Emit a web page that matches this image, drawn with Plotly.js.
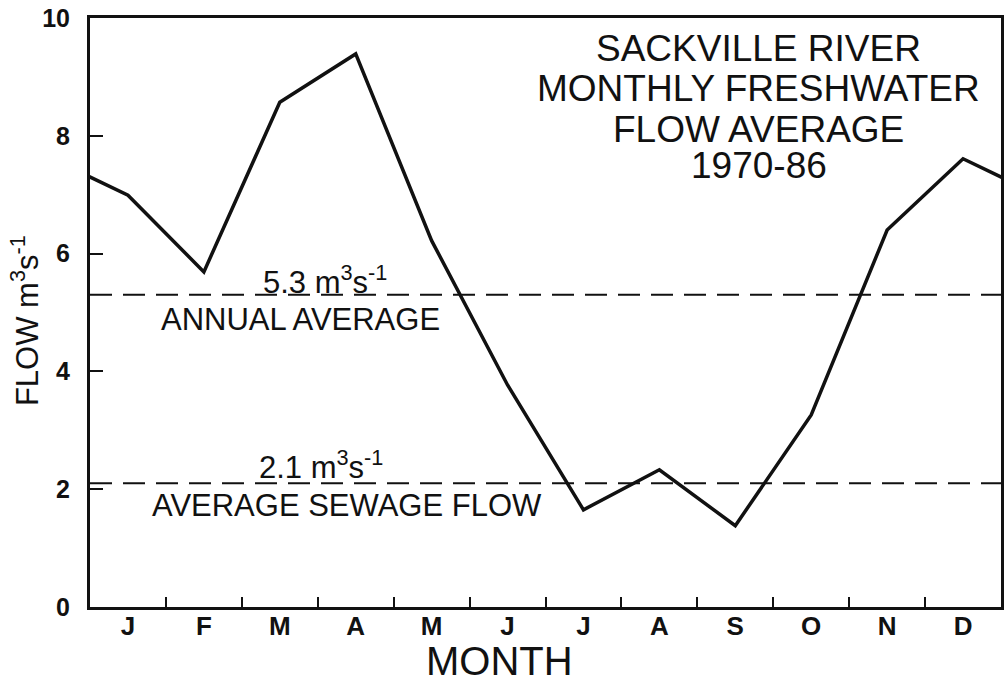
<!DOCTYPE html>
<html>
<head>
<meta charset="utf-8">
<script src="https://cdn.plot.ly/plotly-3.0.1.min.js"></script>
<style>
  html, body { margin: 0; padding: 0; background: #fff; }
  #chart { width: 1006px; height: 688px; }
</style>
</head>
<body>
<div id="chart"></div>
<script>
// Sackville River mean monthly freshwater flow, 1970-86 (m3/s)
const months = ['J', 'F', 'M', 'A', 'M', 'J', 'J', 'A', 'S', 'O', 'N', 'D'];
const monthlyFlow = [6.99, 5.69, 8.57, 9.39, 6.22, 3.77, 1.65, 2.33, 1.38, 3.26, 6.40, 7.61];
const annualAverage = 5.3;
const sewageAverage = 2.1;
const yTicks = [0, 2, 4, 6, 8, 10];
const titleLines = ['SACKVILLE RIVER', 'MONTHLY FRESHWATER', 'FLOW AVERAGE', '1970-86'];

// Month i sits at x = i + 1; the cycle wraps so the line runs to both edges
const monthPos = months.map((_, i) => i + 1);
const xLine = [0, ...monthPos, months.length + 1];
const yLine = [monthlyFlow[monthlyFlow.length - 1], ...monthlyFlow, monthlyFlow[0]];
const boundaries = monthPos.slice(0, -1).map(v => v + 0.5);

const FONT = 'Liberation Sans, Arial, Helvetica, sans-serif';
const INK = '#111';

const flowTrace = {
  x: xLine,
  y: yLine,
  type: 'scatter',
  mode: 'lines',
  line: { color: INK, width: 3.5 },
  hoverinfo: 'skip',
  showlegend: false
};

const refLine = v => ({
  type: 'line', xref: 'paper', x0: 0, x1: 1, yref: 'y', y0: v, y1: v,
  line: { color: INK, width: 2, dash: '22px,11px' }
});

const note = (text, x, y, yshift, size) => ({
  text, x, y, xref: 'x', yref: 'y', yshift, showarrow: false,
  xanchor: 'center', yanchor: 'middle',
  font: { family: FONT, size, color: INK }
});

const titleY = [0.949, 0.881, 0.8115, 0.750];
const titleAnnotations = titleLines.map((t, i) => ({
  text: t, xref: 'paper', yref: 'paper', x: 0.734, y: titleY[i],
  showarrow: false, xanchor: 'center', yanchor: 'middle',
  height: 34, valign: 'middle',
  font: { family: FONT, size: 37, color: INK }
}));

const layout = {
  width: 1006,
  height: 688,
  margin: { l: 90, r: 5, t: 18, b: 81 },
  paper_bgcolor: '#fff',
  plot_bgcolor: '#fff',
  showlegend: false,
  xaxis: {
    range: [0.5, months.length + 0.5],
    tickmode: 'array',
    tickvals: monthPos,
    ticktext: months,
    ticks: '',
    ticklabelstandoff: -6,
    minor: {
      tickmode: 'array',
      tickvals: boundaries,
      ticks: 'inside',
      ticklen: 10,
      tickwidth: 2,
      tickcolor: INK,
      showgrid: false
    },
    tickfont: { family: FONT, size: 26, color: INK, weight: 'bold' },
    showline: true, mirror: true, linecolor: INK, linewidth: 3,
    showgrid: false, zeroline: false, fixedrange: true
  },
  yaxis: {
    range: [0, 10],
    tickmode: 'array',
    tickvals: yTicks,
    ticktext: yTicks.map(String),
    ticks: 'inside',
    ticklen: 13,
    tickwidth: 2,
    tickcolor: INK,
    ticklabelstandoff: 12,
    tickfont: { family: FONT, size: 25, color: INK, weight: 'bold' },
    showline: true, mirror: true, linecolor: INK, linewidth: 3,
    showgrid: false, zeroline: false, fixedrange: true
  },
  shapes: [refLine(annualAverage), refLine(sewageAverage)],
  annotations: [
    ...titleAnnotations,
    note(annualAverage.toFixed(1) + ' m<sup>3</sup>s<sup>-1</sup>', 3.6, annualAverage, 15, 31),
    note('ANNUAL AVERAGE', 3.27, annualAverage, -25, 31),
    note(sewageAverage.toFixed(1) + ' m<sup>3</sup>s<sup>-1</sup>', 3.54, sewageAverage, 18, 31),
    note('AVERAGE SEWAGE FLOW', 3.886, sewageAverage, -22, 31),
    {
      text: 'FLOW m<sup>3</sup>s<sup>-1</sup>', xref: 'paper', yref: 'paper',
      x: -0.0714, y: 0.487, textangle: -90, showarrow: false,
      xanchor: 'center', yanchor: 'middle',
      font: { family: FONT, size: 31, color: INK }
    },
    {
      text: 'MONTH', xref: 'paper', yref: 'paper', x: 0.45, y: -0.092,
      showarrow: false, xanchor: 'center', yanchor: 'middle',
      height: 36, valign: 'middle',
      font: { family: FONT, size: 40, color: INK }
    }
  ]
};

Plotly.newPlot('chart', [flowTrace], layout, { displayModeBar: false, staticPlot: true });
</script>
</body>
</html>
